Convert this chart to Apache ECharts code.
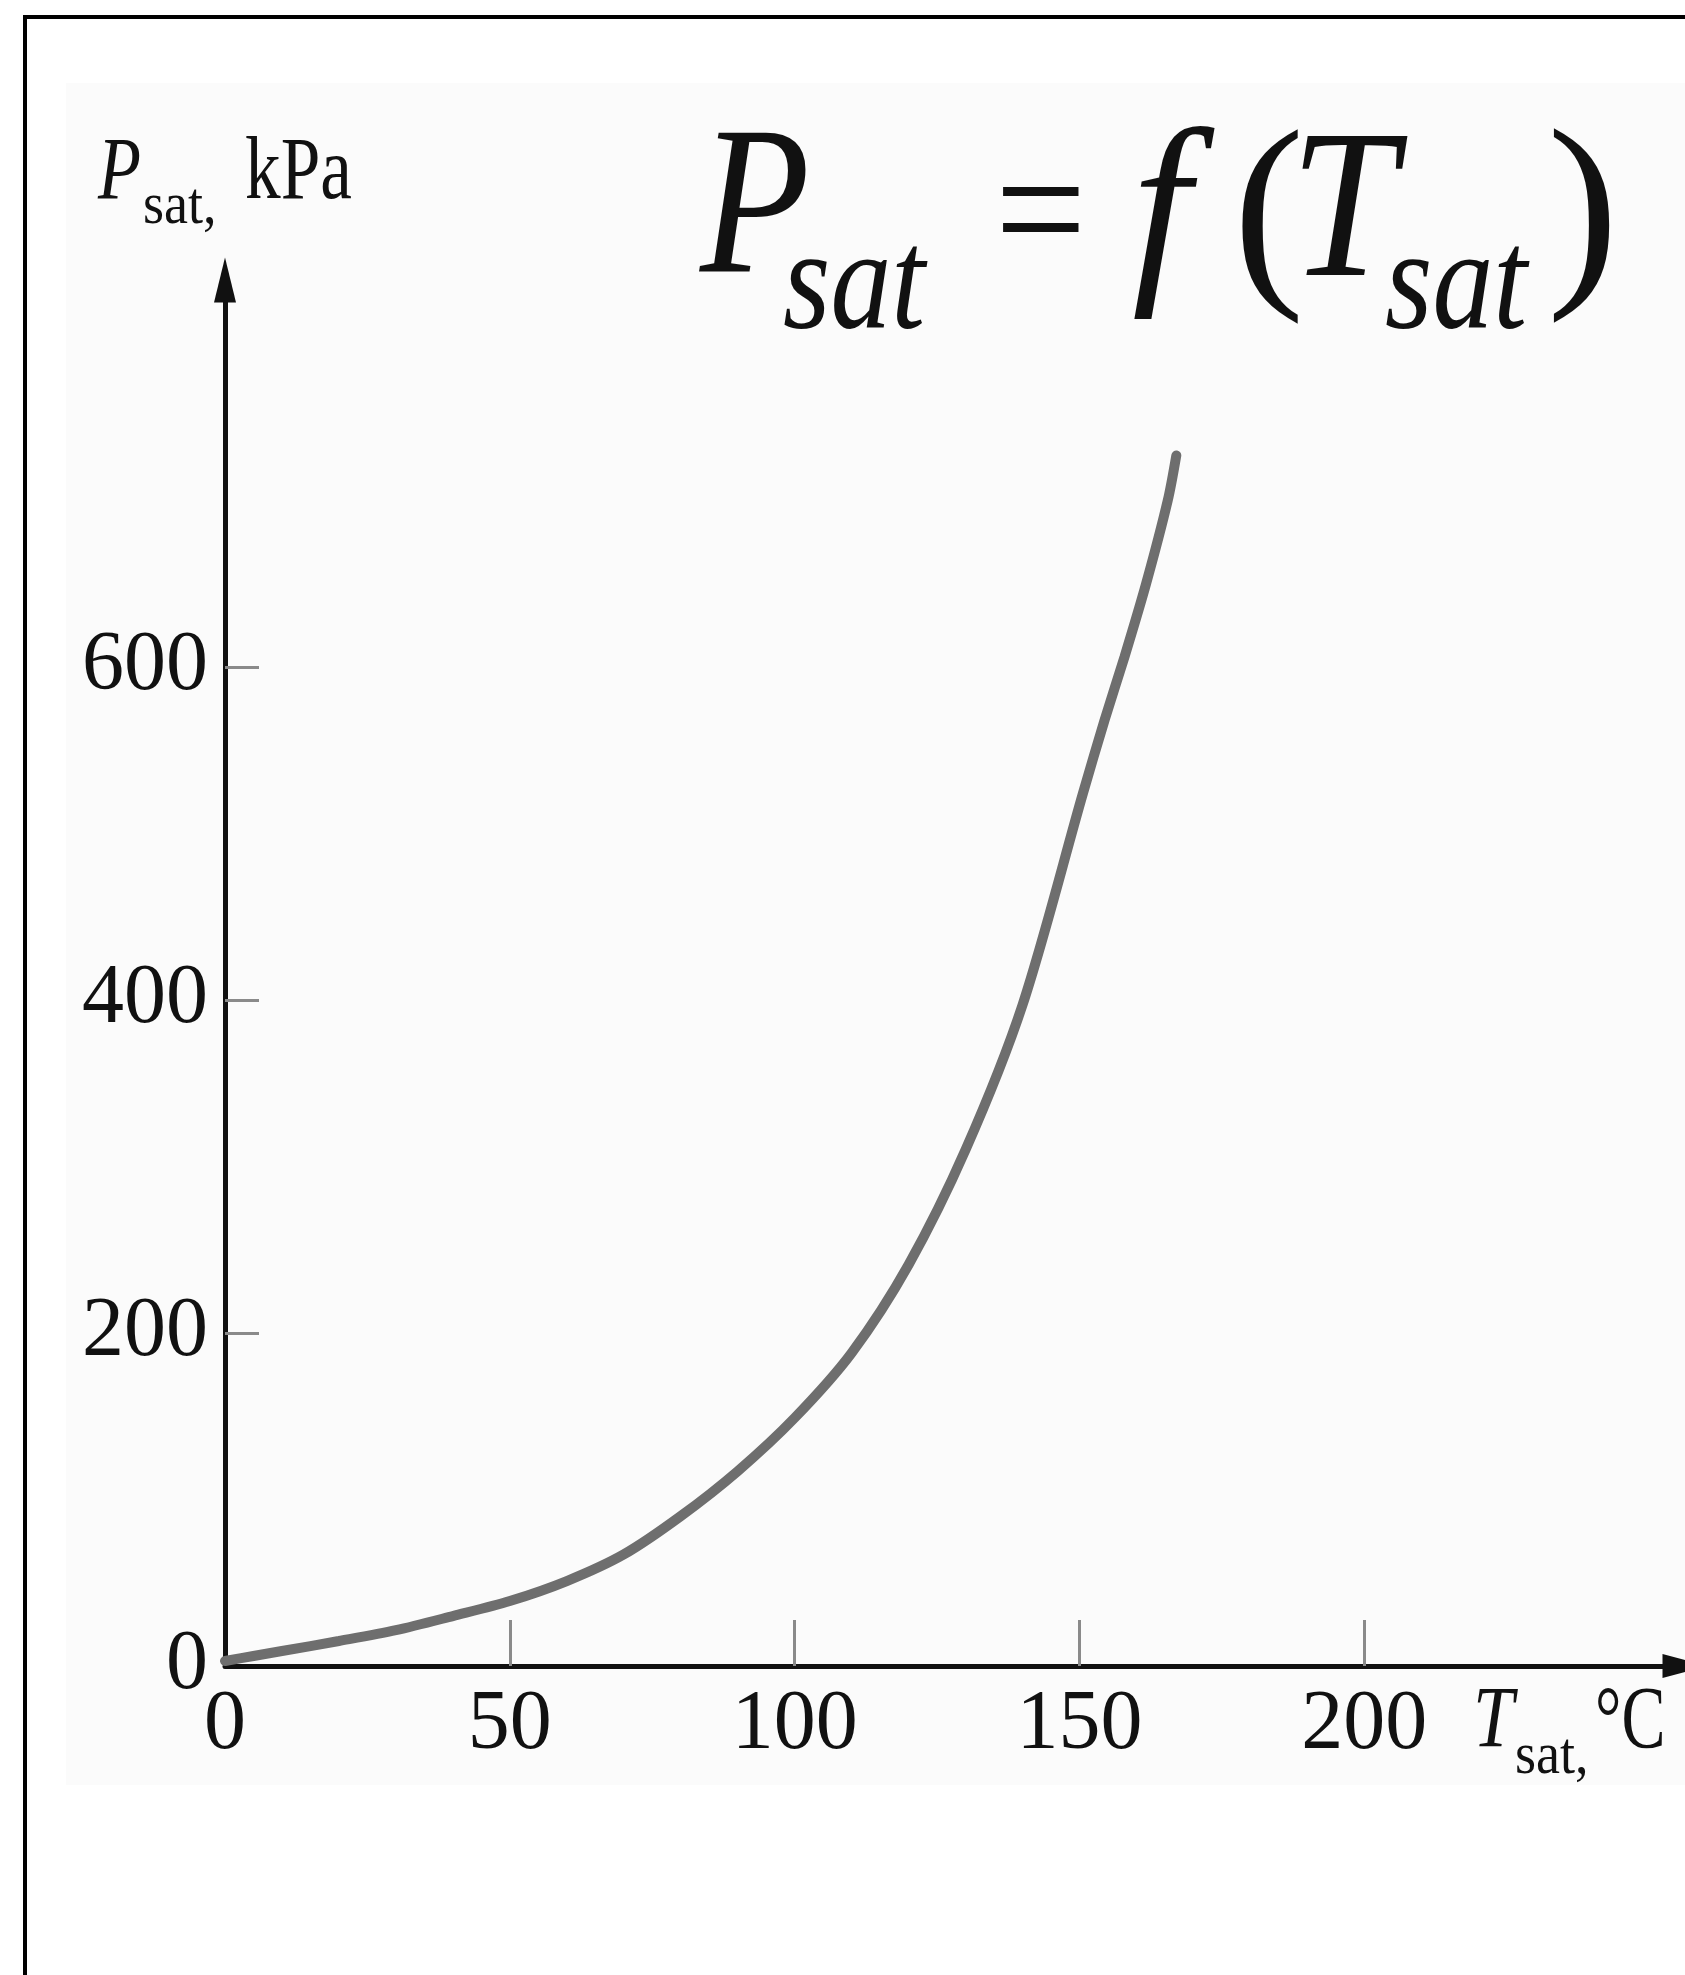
<!DOCTYPE html>
<html>
<head>
<meta charset="utf-8">
<script src="https://cdn.jsdelivr.net/npm/echarts@6/dist/echarts.min.js"></script>
<style>
  html, body { margin: 0; padding: 0; background: #ffffff; }
  #chart { width: 1685px; height: 1975px; }
</style>
</head>
<body>
<div id="chart"></div>
<script>
// Saturation curve of water: temperature (°C) against saturation pressure (kPa)
const tempC = [0, 5, 10, 20, 30, 40, 50, 60, 70, 80, 90, 100, 110, 120, 130, 140, 150.6, 154.4, 157.9, 161.7, 165.5, 167.0];
const pressureKPa = [3, 6, 9, 15, 21.5, 30, 39, 51, 67, 90, 117, 149, 188, 241, 310, 397, 524, 568, 606, 650, 700, 727];

// Axis ticks and labels
const xTickValues = [50, 100, 150, 200];
const xLabelValues = [0, 50, 100, 150, 200];
const yTickValues = [200, 400, 600];
const yLabelValues = [0, 200, 400, 600];

const SERIF = '"Liberation Serif", "Times New Roman", serif';
const INK = '#111111';

function txt(text, x, y, size, italic, sx) {
  return {
    type: 'text', x: x, y: y, scaleX: sx, silent: true, z: 10,
    style: {
      text: text,
      font: (italic ? 'italic ' : '') + size + 'px ' + SERIF,
      fill: INK,
      textAlign: 'left',
      textVerticalAlign: 'middle'
    }
  };
}

const chart = echarts.init(document.getElementById('chart'), null, { renderer: 'canvas' });

chart.setOption({
  animation: false,
  backgroundColor: '#ffffff',
  grid: { left: 225, right: -1, top: 280, bottom: 309, containLabel: false },
  xAxis: {
    type: 'value',
    min: 0,
    max: 256.3,
    axisLine: {
      show: true,
      symbol: ['none', 'triangle'],
      symbolSize: [24, 45],
      lineStyle: { color: INK, width: 5 }
    },
    axisTick: {
      show: true, inside: true, length: 46,
      customValues: xTickValues,
      lineStyle: { color: '#8a8a8a', width: 3 }
    },
    axisLabel: {
      customValues: xLabelValues,
      fontFamily: SERIF, fontSize: 84, color: INK, margin: 18
    },
    splitLine: { show: false }
  },
  yAxis: {
    type: 'value',
    min: 0,
    max: 832.4,
    axisLine: {
      show: true,
      symbol: ['none', 'triangle'],
      symbolSize: [22, 45],
      lineStyle: { color: INK, width: 5 }
    },
    axisTick: {
      show: true, inside: true, length: 34,
      customValues: yTickValues,
      lineStyle: { color: '#8a8a8a', width: 3 }
    },
    axisLabel: {
      customValues: yLabelValues,
      fontFamily: SERIF, fontSize: 84, color: INK, margin: 17
    },
    splitLine: { show: false }
  },
  series: [{
    type: 'line',
    data: tempC.map((t, i) => [t, pressureKPa[i]]),
    smooth: 0.3,
    showSymbol: false,
    clip: false,
    lineStyle: { color: '#6e6e6e', width: 10, cap: 'round' }
  }],
  graphic: [
    // faint panel behind the plot
    { type: 'rect', silent: true, z: -10,
      shape: { x: 66, y: 83, width: 1640, height: 1702 },
      style: { fill: '#fbfbfb' } },
    // frame
    { type: 'rect', silent: true, z: 20,
      shape: { x: 25, y: 17, width: 1720, height: 2020 },
      style: { fill: 'none', stroke: '#000000', lineWidth: 4 } },

    // vertical axis name: P_sat, kPa
    txt('P', 98, 175, 88, true, 0.8),
    txt('sat,', 143, 207, 60, false, 0.9),
    txt('kPa', 245, 175, 88, false, 0.81),

    // horizontal axis name: T_sat, °C
    txt('T', 1473, 1723, 86, true, 0.85),
    txt('sat,', 1515, 1757, 60, false, 0.9),
    txt('°C', 1595, 1724, 88, false, 0.75),

    // relation P_sat = f(T_sat)
    txt('P', 700, 216, 212, true, 0.85),
    txt('sat', 783, 290, 145, true, 0.84),
    txt('=', 995, 222, 180, false, 0.9),
    txt('f', 1132, 219, 210, true, 1.0),
    txt('(', 1233, 222, 215, false, 1.0),
    txt('T', 1290, 219, 212, true, 0.9),
    txt('sat', 1385, 290, 145, true, 0.84),
    txt(')', 1547, 221, 215, false, 1.0)
  ]
});
</script>
</body>
</html>
